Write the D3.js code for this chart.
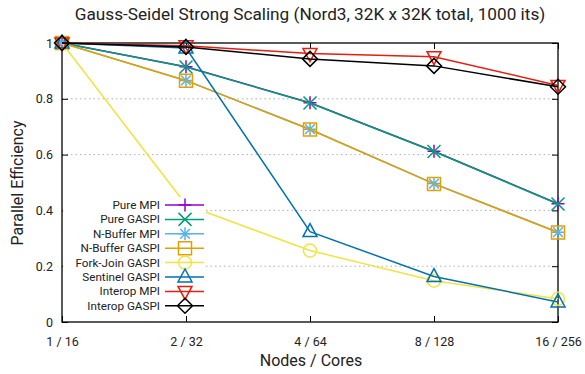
<!DOCTYPE html>
<html><head><meta charset="utf-8">
<script src="https://cdn.jsdelivr.net/npm/d3@7"></script>
<style>body{margin:0;background:#fff}svg{display:block;font-family:Roboto,"Noto Sans",sans-serif}</style>
</head><body><svg id="c" width="585" height="374"></svg>
<script>
const categories = ["1 / 16", "2 / 32", "4 / 64", "8 / 128", "16 / 256"];
const yTicks = [0, 0.2, 0.4, 0.6, 0.8, 1];
const seriesNames = ["Pure MPI", "Pure GASPI", "N-Buffer MPI", "N-Buffer GASPI", "Fork-Join GASPI", "Sentinel GASPI", "Interop MPI", "Interop GASPI"];
const pureMPI      = [1, 0.915, 0.786, 0.612, 0.424];
const pureGASPI    = [1, 0.914, 0.785, 0.611, 0.423];
const nbufMPI      = [1, 0.866, 0.691, 0.496, 0.322];
const nbufGASPI    = [1, 0.865, 0.690, 0.495, 0.321];
const forkJoin     = [1, 0.420, 0.256, 0.148, 0.083];
const sentinel     = [1, 0.982, 0.324, 0.163, 0.072];
const interopMPI   = [1, 0.990, 0.962, 0.951, 0.848];
const interopGASPI = [1, 0.986, 0.943, 0.918, 0.843];
const seriesValues = [pureMPI, pureGASPI, nbufMPI, nbufGASPI, forkJoin, sentinel, interopMPI, interopGASPI];
const colors = ["#9400d3", "#009e73", "#56b4e9", "#e69f00", "#f0e442", "#0072b2", "#e51e10", "#000000"];
const markers = ["plus", "cross", "star", "square", "circle", "tri", "itri", "diamond"];

const svg = d3.select("#c");
const L = 62, R = 558, T = 43, B = 322;
const x = d3.scalePoint().domain(categories).range([L, R]).padding(0);
const y = d3.scaleLinear().domain([0, 1]).range([B, T]);

// grid
svg.append("g").selectAll("line").data(yTicks.filter(v => v > 0 && v < 1)).join("line")
  .attr("x1", L).attr("x2", R).attr("y1", d => y(d)).attr("y2", d => y(d))
  .attr("stroke", "#b0b0b0").attr("stroke-width", 1).attr("stroke-dasharray", "1.5,3");

// axes with inward ticks
const fmt = d => d === 0 ? "0" : d === 1 ? "1" : d3.format(".1f")(d);
const gl = svg.append("g").attr("transform", `translate(${L},0)`)
  .call(d3.axisLeft(y).tickValues(yTicks).tickFormat(fmt).tickSizeInner(-6).tickSizeOuter(0).tickPadding(9));
const gr = svg.append("g").attr("transform", `translate(${R},0)`)
  .call(d3.axisRight(y).tickValues(yTicks).tickFormat("").tickSizeInner(-6).tickSizeOuter(0));
const gb = svg.append("g").attr("transform", `translate(0,${B})`)
  .call(d3.axisBottom(x).tickSizeInner(-6).tickSizeOuter(0).tickPadding(15));
const gt = svg.append("g").attr("transform", `translate(0,${T})`)
  .call(d3.axisTop(x).tickFormat("").tickSizeInner(-6).tickSizeOuter(0));
[gl, gr, gb, gt].forEach(g => {
  g.select(".domain").remove();
  g.selectAll("line").attr("stroke", "#000").attr("stroke-width", 1);
  g.selectAll("text").attr("font-size", 12.5).attr("fill", "#222").attr("font-family", "Roboto, sans-serif");
});
svg.append("rect").attr("x", L).attr("y", T).attr("width", R - L).attr("height", B - T)
  .attr("fill", "none").attr("stroke", "#000").attr("stroke-width", 1.3);

function markerPath(type, cx, cy) {
  const s = 6.5;
  switch (type) {
    case "plus": return `M${cx-s},${cy}H${cx+s}M${cx},${cy-s}V${cy+s}`;
    case "cross": return `M${cx-s},${cy-s}L${cx+s},${cy+s}M${cx-s},${cy+s}L${cx+s},${cy-s}`;
    case "star": return `M${cx-s},${cy}H${cx+s}M${cx},${cy-s}V${cy+s}M${cx-s*0.75},${cy-s*0.75}L${cx+s*0.75},${cy+s*0.75}M${cx-s*0.75},${cy+s*0.75}L${cx+s*0.75},${cy-s*0.75}`;
    case "square": return `M${cx-s},${cy-s}H${cx+s}V${cy+s}H${cx-s}Z`;
    case "circle": return `M${cx-s},${cy}A${s},${s} 0 1 0 ${cx+s},${cy}A${s},${s} 0 1 0 ${cx-s},${cy}Z`;
    case "tri": return `M${cx},${cy-8}L${cx+7},${cy+5}L${cx-7},${cy+5}Z`;
    case "itri": return `M${cx},${cy+8}L${cx+7},${cy-5}L${cx-7},${cy-5}Z`;
    case "diamond": return `M${cx},${cy-7.5}L${cx+7.5},${cy}L${cx},${cy+7.5}L${cx-7.5},${cy}Z`;
  }
}

const line = d3.line().x((d, i) => x(categories[i])).y(d => y(d));
const plot = svg.append("g");
seriesValues.forEach((vals, k) => {
  plot.append("path").attr("d", line(vals)).attr("fill", "none")
    .attr("stroke", colors[k]).attr("stroke-width", 1.5);
  plot.append("g").selectAll("path").data(vals).join("path")
    .attr("d", (d, i) => markerPath(markers[k], x(categories[i]), y(d)))
    .attr("fill", "none").attr("stroke", colors[k]).attr("stroke-width", 1.5);
});

// legend
const lg = svg.append("g");
lg.append("rect").attr("x", L + 1).attr("y", 197).attr("width", 143).attr("height", 116).attr("fill", "#fff");
seriesNames.forEach((name, k) => {
  const ly = 205 + k * 14.4;
  lg.append("text").attr("x", 160).attr("y", ly).attr("dy", "0.35em").attr("text-anchor", "end")
    .attr("font-size", 11.7).attr("fill", "#222").text(name);
  lg.append("line").attr("x1", 165).attr("x2", 204).attr("y1", ly).attr("y2", ly)
    .attr("stroke", colors[k]).attr("stroke-width", 1.5);
  lg.append("path").attr("d", markerPath(markers[k], 185, ly)).attr("fill", "none")
    .attr("stroke", colors[k]).attr("stroke-width", 1.5);
});

// titles
svg.append("text").attr("x", 310).attr("y", 20).attr("text-anchor", "middle")
  .attr("font-size", 17.2).attr("fill", "#222").text("Gauss-Seidel Strong Scaling (Nord3, 32K x 32K total, 1000 its)");
svg.append("text").attr("x", 311).attr("y", 366).attr("text-anchor", "middle")
  .attr("font-size", 16).attr("fill", "#222").text("Nodes / Cores");
svg.append("text").attr("transform", "translate(23,183) rotate(-90)").attr("text-anchor", "middle")
  .attr("font-size", 16).attr("fill", "#222").text("Parallel Efficiency");
</script></body></html>
